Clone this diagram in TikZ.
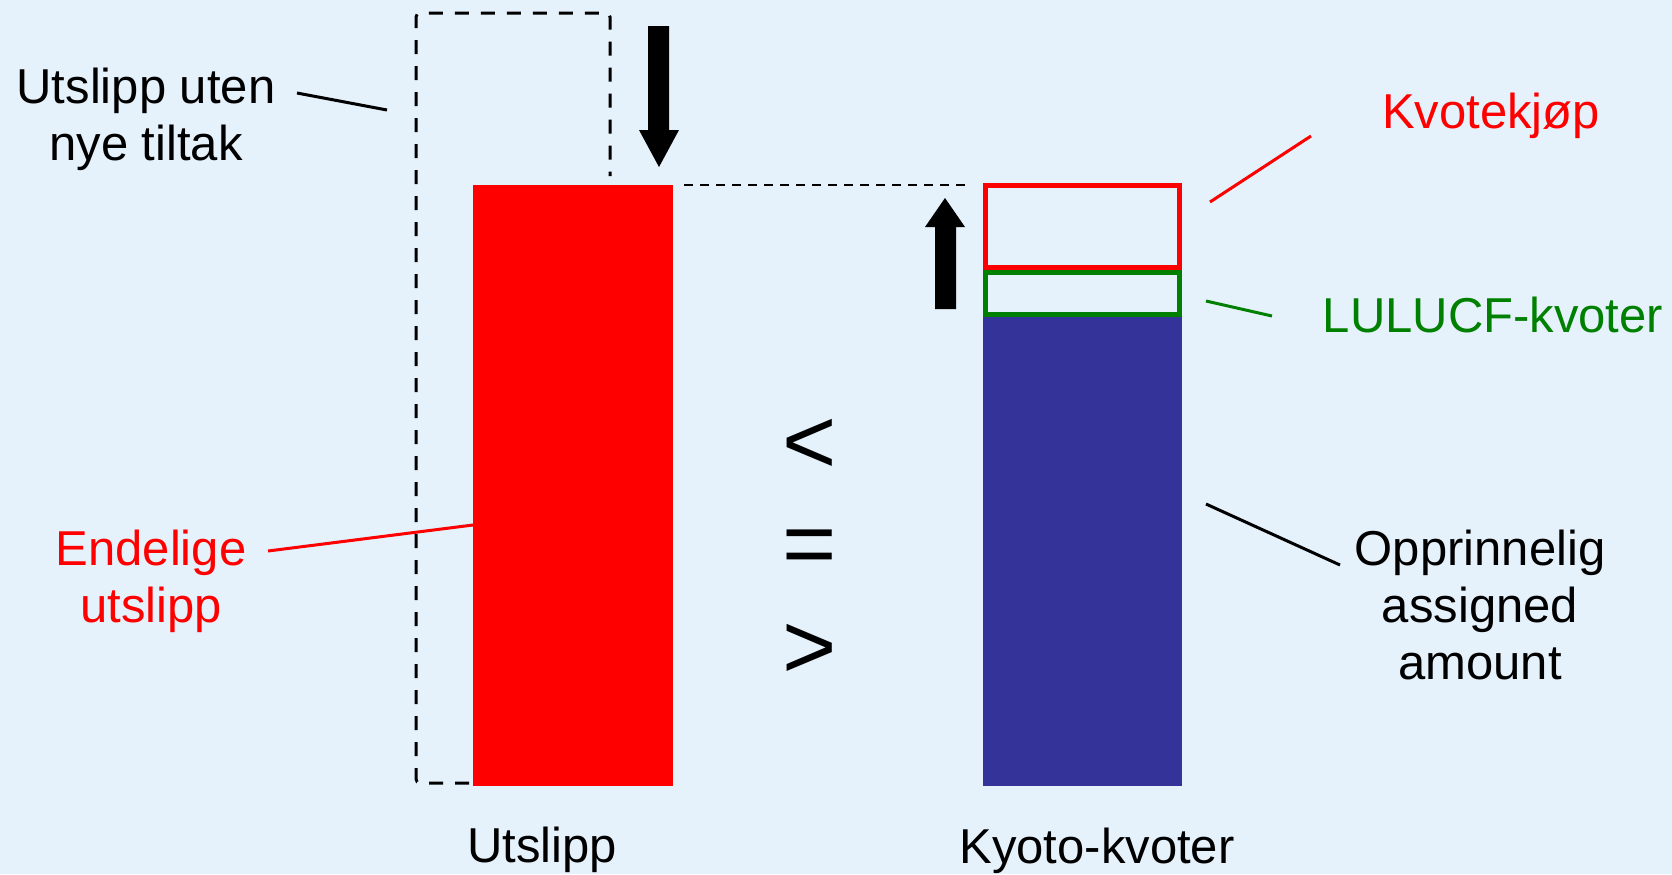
\documentclass[tikz,border=0pt]{standalone}
\usepackage{fontspec}
\setmainfont{Liberation Sans}
\usepackage{tikz}

\definecolor{bgblue}{RGB}{229,241,251}
\definecolor{barred}{RGB}{255,0,0}
\definecolor{barblue}{RGB}{51,51,153}
\definecolor{kvgreen}{RGB}{0,128,0}

\tikzset{
	lbl/.style={font={\fontsize{24.5pt}{28.5pt}\selectfont}, align=center, anchor=base, inner sep=0pt},
	sym/.style={font={\fontsize{46.5pt}{50pt}\selectfont}, anchor=base, inner sep=0pt},
	leader/.style={line width=1.5pt},
	outline/.style={line width=2.35pt}
}

\begin{document}
\begin{tikzpicture}[x=0.5pt, y=-0.5pt]
	\fill[bgblue] (0,0) rectangle (1672,874);
	\useasboundingbox (0,0) rectangle (1672,874);
	% bars
	\fill[barred] (473,185) rectangle (673,786);
	\fill[barblue] (983,317) rectangle (1182,786);
	\draw[outline, draw=barred] (985.5,185.5) rectangle (1179.5,267.5);
	\draw[outline, draw=kvgreen] (985.5,272.5) rectangle (1179.5,314.5);
	% utslipp uten nye tiltak
	\draw[line width=1.5pt, dash pattern=on 7pt off 6pt, rounded corners=2pt]
		(469,783) -- (416,783) -- (416,13) -- (610,13) -- (610,176);
	\draw[line width=0.7pt, dash pattern=on 4.5pt off 3.5pt] (684,185) -- (966,185);
	% arrows
	\fill (648,26) -- (669,26) -- (669,130) -- (679,130) -- (659,167) -- (639,130) -- (648,130) -- cycle;
	\fill (935,309) -- (956,309) -- (956,227) -- (965,227) -- (945,198) -- (925,227) -- (935,227) -- cycle;
	% < = >
	\node[sym] (lt) at (810,473) {<};
	\node[sym] (eq) at (810,575) {=};
	\node[sym] (gt) at (810,678) {>};
	% labels (base = last line)
	\node[lbl] (uten) at (146,160) {Utslipp uten\\nye tiltak};
	\node[lbl, text=barred] (endelige) at (151,622) {Endelige\\utslipp};
	\node[lbl, text=barred] (kjop) at (1491,128) {Kvotekjøp};
	\node[lbl, text=kvgreen] (lulucf) at (1493,332) {LULUCF-kvoter};
	\node[lbl] (aau) at (1480,679) {Opprinnelig\\assigned\\amount};
	\node[lbl] (utslipp) at (542,862) {Utslipp};
	\node[lbl] (kyoto) at (1097,863) {Kyoto-kvoter};
	% leader lines
	\coordinate (uten-a) at (297,93);
	\coordinate (uten-b) at (387,110);
	\coordinate (endelige-a) at (268,551);
	\coordinate (endelige-b) at (473,525);
	\coordinate (kjop-a) at (1311,136);
	\coordinate (kjop-b) at (1210,202);
	\coordinate (lulucf-a) at (1272,316);
	\coordinate (lulucf-b) at (1206,301);
	\coordinate (aau-a) at (1340,565);
	\coordinate (aau-b) at (1206,504);
	\draw[leader] (uten-a) -- (uten-b);
	\draw[leader, barred] (endelige-a) -- (endelige-b);
	\draw[leader, barred] (kjop-a) -- (kjop-b);
	\draw[leader, kvgreen] (lulucf-a) -- (lulucf-b);
	\draw[leader] (aau-a) -- (aau-b);
\end{tikzpicture}
\end{document}
